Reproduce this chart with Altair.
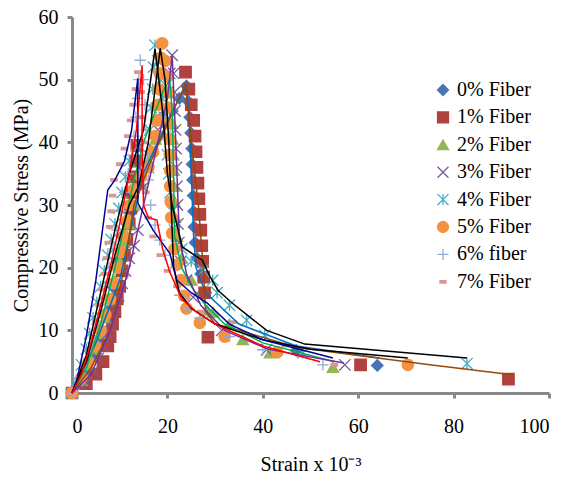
import altair as alt
import pandas as pd

series_names = ["0% Fiber", "1% Fiber", "2% Fiber", "3% Fiber",
                "4% Fiber", "5% Fiber", "6% fiber", "7% Fiber"]
marker_colors = ["#4674B4", "#B0413E", "#93B553", "#7A5C9E",
                 "#4AACC5", "#F59240", "#94AAD6", "#D99694"]
X_PATH = "M-1,-1L1,1M-1,1L1,-1"
STAR_PATH = "M-1,-1L1,1M-1,1L1,-1M0,-1L0,1"
PLUS_PATH = "M-1,0L1,0M0,-1L0,1"
DASH_PATH = "M-0.55,-0.22L0.55,-0.22L0.55,0.22L-0.55,0.22Z"
marker_shapes = ["diamond", "square", "triangle-up", X_PATH,
                 STAR_PATH, "circle", PLUS_PATH, DASH_PATH]

# ---- measured points (strain x10^-3, stress MPa) ----
s0_x = [0, 1.5, 3, 4.5, 6, 7.5, 8.5, 9.5, 10.5, 11.5, 12.6, 14, 15, 16.5, 18, 19.5, 21, 22.5, 24,
        24.4, 24.7, 24.9, 25.1, 25.2, 25.3, 25.4, 25.5, 25.6, 25.8, 26.2, 27, 28, 47, 64]
s0_y = [0, 1.5, 3.5, 6, 9, 13, 17, 21, 25, 27, 29, 33, 36, 38.5, 41, 43, 45, 47, 49,
        46.5, 44, 41.5, 39, 36.5, 34, 31.5, 29, 26.5, 24, 21.5, 19, 16, 6.8, 4.4]

s1_x = [0, 3, 5, 6.5, 7.5, 8, 8.5, 9, 9.5, 10, 10.5, 11, 11.5, 12, 12.3, 12.6, 13, 13.3, 13.6,
        23.8, 24.5, 25, 25.5, 25.8, 26, 26.2, 26.4, 26.6, 26.8, 27, 27.2, 27.4, 27.6, 27.8, 28.5, 60.5, 91.5]
s1_y = [0, 1.5, 3, 5, 7.5, 9, 11, 13, 15, 17, 19.5, 22, 24.5, 27, 29.5, 32, 34.5, 37, 39.5,
        51.2, 48.5, 46, 43.5, 41, 38.5, 36, 33.5, 31, 28.5, 26, 23.5, 21, 18.5, 16, 8.9, 4.5, 2.2]

s2_x = [0, 2, 3.5, 5, 6, 7, 8, 9, 10, 11, 12, 13, 14.5, 16, 17.5, 19, 20.5,
        20.8, 21, 21.1, 21.2, 21.3, 21.4, 21.5, 21.6, 22, 23, 25, 28.3, 29.6, 33, 35.8, 41.5, 54.7]
s2_y = [0, 2, 4.5, 7, 9.5, 12, 15, 18, 21, 24, 27, 30, 33.5, 37, 40.5, 44, 48,
        45.5, 43, 40.5, 38, 35.5, 33, 30.5, 28, 25, 21.5, 18, 13.2, 12.9, 11, 8.5, 6.4, 4.1]

s3_x = [0, 3.1, 4.5, 5.5, 6.5, 7.5, 8.2, 9, 9.8, 10.5, 11.2, 12, 13, 13.8, 14.9, 16, 17, 18, 19, 20, 20.5, 21,
        21.3, 21.5, 21.6, 21.7, 21.8, 21.9, 22, 22.1, 22.2, 22.4, 22.8, 24, 25.4, 31.4, 40.8, 57.2]
s3_y = [0, 1.6, 3.5, 5.5, 7.5, 9.5, 11.5, 13.5, 15.5, 17.5, 19.5, 21.5, 23.5, 26, 32.8, 36, 39, 42, 45, 48, 51, 53.9,
        51, 48, 45, 42, 39, 36, 33, 30, 27, 24, 21, 18, 15.3, 10, 6.9, 4.5]

s4_x = [0, 1, 2, 3, 3.7, 4.4, 5.2, 6, 6.8, 7.5, 8.2, 9, 9.8, 10.5, 11.2, 12, 14, 16.3, 16.6, 16.9, 17.1, 17.4,
        18, 18.5, 19, 19.3, 19.6, 20, 20.3, 20.6, 21, 21.5, 23, 25, 27.5, 29.5, 30.4, 33, 36.6, 40.4, 48.4, 82.8]
s4_y = [0, 2, 4.5, 7, 9.5, 12, 14.5, 17, 19.5, 22, 24.5, 27, 29.5, 32, 34.5, 37, 39.5, 42, 45.5, 48.5, 52, 55.5,
        53, 50, 47, 44, 41, 38, 35, 32, 29, 26, 23, 21, 19.6, 18, 16, 14, 11.6, 9.2, 6.4, 4.7]

s5_x = [0, 2, 3.5, 4.8, 6, 7, 8, 8.8, 9.6, 10.3, 11, 11.6, 12.2, 13, 14.5, 16, 17, 17.5, 17.8, 18, 18.2, 18.4,
        18.6, 18.9, 19.5, 20, 20.2, 20.3, 20.4, 20.5, 20.5, 20.6, 20.6, 20.7, 20.8, 21, 21.5, 22, 22.8, 23.5,
        24, 26.8, 32, 43, 70.4]
s5_y = [0, 2.5, 5, 7.5, 10, 12.5, 15, 17.5, 20, 22.5, 25, 27.5, 30, 32.5, 34.5, 36, 38.5, 41, 43.5, 46, 48.5, 51,
        53.5, 55.8, 53, 50.5, 48, 45.5, 43, 40.5, 38, 35.5, 33, 30.5, 28, 25.5, 23, 20.5, 18, 15.5,
        13.5, 11.2, 9, 6.5, 4.5]

s6_x = [0, 1.5, 3, 4.2, 5.2, 6.2, 7, 7.8, 8.6, 9.4, 10.2, 11, 11.8, 12.5, 13, 13.4, 13.7, 14, 14.3,
        15, 15.3, 15.5, 15.7, 16, 16.5, 17.4, 18.4, 19.5, 21.6, 22.6, 24.5, 26.8, 33, 40, 52.6]
s6_y = [0, 2, 5, 8, 11, 14, 17, 20, 23, 26, 29, 32, 35, 38, 41, 44, 47, 50, 53.1,
        50, 46, 42, 38, 34, 30, 26.8, 24.4, 22, 20, 15.6, 13.5, 12, 9, 6.9, 4.5]

s7_x = [0, 1.5, 2.5, 3.5, 4.3, 5, 5.7, 6.3, 6.8, 7.2, 7.6, 7.9, 8.2, 8.5, 8.8, 10, 11, 11.7, 12.3, 12.8, 13.3, 13.8,
        14.5, 14.8, 15, 15.2, 15.5, 16, 17, 18.5, 20, 22, 24, 27, 33.8, 44.7, 55]
s7_y = [0, 2, 4, 6.5, 9, 11.5, 14, 16.5, 19, 21.5, 24, 26.5, 29, 31.5, 34, 36.5, 39, 41, 43.5, 46, 48.5, 51.2,
        48, 44, 40, 36, 32, 28, 25, 22, 19.5, 17, 15, 13, 11.3, 7.6, 4.5]

# ---- model curves (drawn as lines, no legend) ----
line_colors = ["#0070C0", "#984807", "#00B050", "#7030A0",
               "#000000", "#000000", "#000099", "#FF0000"]
m0_x = [0, 5, 10, 14.9, 18, 21, 24, 24.5, 25, 25.5, 26, 28, 35, 47, 64.5]
m0_y = [0, 8, 18, 35, 40, 45, 49, 45, 35, 25, 20, 16, 11, 7.5, 5.6]
m1_x = [0, 4, 8, 11, 13, 16, 20, 23.8, 25, 26.5, 27.5, 28, 30, 35, 47, 60, 75, 92.5]
m1_y = [0, 4, 10, 20, 30, 36, 43, 49.3, 40, 30, 20, 13, 11, 10, 7.3, 6, 4.5, 2.9]
m2_x = [0, 3, 6, 9, 11, 13, 15, 17, 19, 20.5, 21, 21.3, 21.5, 23, 25, 28, 32, 40, 55]
m2_y = [0, 4, 11, 20, 27, 34, 40, 44, 48, 50, 45, 35, 25, 20, 17, 14, 11, 8, 5]
m3_x = [0, 4, 8, 12, 15, 18, 20, 21, 21.5, 22, 22.5, 24, 27, 32, 41, 57]
m3_y = [0, 3, 10, 20, 30, 40, 47, 53.9, 45, 35, 25, 19, 14, 10, 7, 4.8]
m4_x = [0, 3, 6, 9, 12, 15, 17.4, 19, 20, 21, 23.1, 27.3, 29, 30.6, 33.5, 40.8, 48.8, 82.8]
m4_y = [0, 6, 16, 26, 35, 42, 54.9, 45, 35, 30, 23.3, 21.2, 18.5, 16.4, 14.4, 10, 7.8, 5.6]
m5_x = [0, 3, 6, 9, 12, 14, 16, 18.5, 19.5, 20.3, 20.8, 21.3, 22.5, 25, 30, 40, 50, 70.4]
m5_y = [0, 5, 13, 22, 30, 33, 40, 55, 50, 40, 30, 20, 16, 13.5, 11, 8.5, 7, 5.6]
m6_x = [0, 1, 3, 5, 7.5, 9, 11, 12.5, 13.8, 13.8, 17, 20.5, 22, 25, 28.3, 33, 40, 54.7]
m6_y = [0, 2, 9, 18, 32.4, 34, 37, 42, 50.2, 30.3, 26, 22.3, 18, 16, 14.4, 11, 8.5, 5.6]
m7_x = [0, 2, 4, 6, 8, 10, 12, 13.5, 14.7, 14.7, 15, 16, 17.8, 19, 20.5, 23, 26, 30, 40, 52]
m7_y = [0, 3, 8, 14, 20, 27, 35, 42, 52.3, 40, 30, 28, 27.6, 23, 19.3, 15, 13, 11, 7.5, 5]

pts_x = [s0_x, s1_x, s2_x, s3_x, s4_x, s5_x, s6_x, s7_x]
pts_y = [s0_y, s1_y, s2_y, s3_y, s4_y, s5_y, s6_y, s7_y]
mod_x = [m0_x, m1_x, m2_x, m3_x, m4_x, m5_x, m6_x, m7_x]
mod_y = [m0_y, m1_y, m2_y, m3_y, m4_y, m5_y, m6_y, m7_y]

rows = []
for name, xs, ys in zip(series_names, pts_x, pts_y):
    for a, b in zip(xs, ys):
        rows.append({"series": name, "strain": a, "stress": b})
pts = pd.DataFrame(rows)

lrows = []
for i, (xs, ys) in enumerate(zip(mod_x, mod_y)):
    for k, (a, b) in enumerate(zip(xs, ys)):
        lrows.append({"model": f"m{i}", "lc": line_colors[i], "idx": k, "strain": a, "stress": b})
lines = pd.DataFrame(lrows)

FONT = "'Liberation Serif', 'Times New Roman', Times, serif"
GRAY = "#898989"

x_enc = alt.X("strain:Q", scale=alt.Scale(domain=[0, 100], nice=False),
              axis=alt.Axis(values=[0, 20, 40, 60, 80, 100], title="Strain x 10\u207b\u00b3",
                            labelPadding=18, titlePadding=18))
y_enc = alt.Y("stress:Q", scale=alt.Scale(domain=[0, 60], nice=False),
              axis=alt.Axis(values=[0, 10, 20, 30, 40, 50, 60], title="Compressive Stress  (MPa)",
                            labelPadding=9, titlePadding=7))

markers = alt.Chart(pts).mark_point(filled=False, strokeWidth=1.3, opacity=1, size=130).encode(
    x=x_enc, y=y_enc,
    color=alt.Color("series:N", scale=alt.Scale(domain=series_names, range=marker_colors),
                    legend=alt.Legend(title=None)),
    fill=alt.Fill("series:N", scale=alt.Scale(domain=series_names, range=marker_colors),
                  legend=alt.Legend(title=None)),
    shape=alt.Shape("series:N", scale=alt.Scale(domain=series_names, range=marker_shapes),
                    legend=alt.Legend(title=None)),
)

model_lines = alt.Chart(lines).mark_line(strokeWidth=1.5).encode(
    x="strain:Q", y="stress:Q",
    detail="model:N",
    stroke=alt.Stroke("lc:N", scale=None),
    order=alt.Order("idx:Q"),
)

chart = alt.layer(markers, model_lines).properties(
    width=477, height=376,
    autosize=alt.AutoSizeParams(type="none"),
    padding={"left": 72, "top": 17, "right": 19, "bottom": 85},
).configure_view(stroke=None).configure_axis(
    grid=False, domainColor=GRAY, domainWidth=3, tickColor=GRAY, tickWidth=3, tickSize=5,
    labelFont=FONT, labelFontSize=20, labelColor="black",
    titleFont=FONT, titleFontSize=20, titleColor="black", titleFontWeight="normal",
).configure_legend(
    orient="none", legendX=361, legendY=63, padding=0,
    labelFont=FONT, labelFontSize=20, labelColor="black", labelOffset=4,
    symbolSize=120, symbolStrokeWidth=1.3, rowPadding=7.4, symbolOpacity=1,
)

chart.save("out.html", embed_options={"renderer": "svg", "actions": False})
